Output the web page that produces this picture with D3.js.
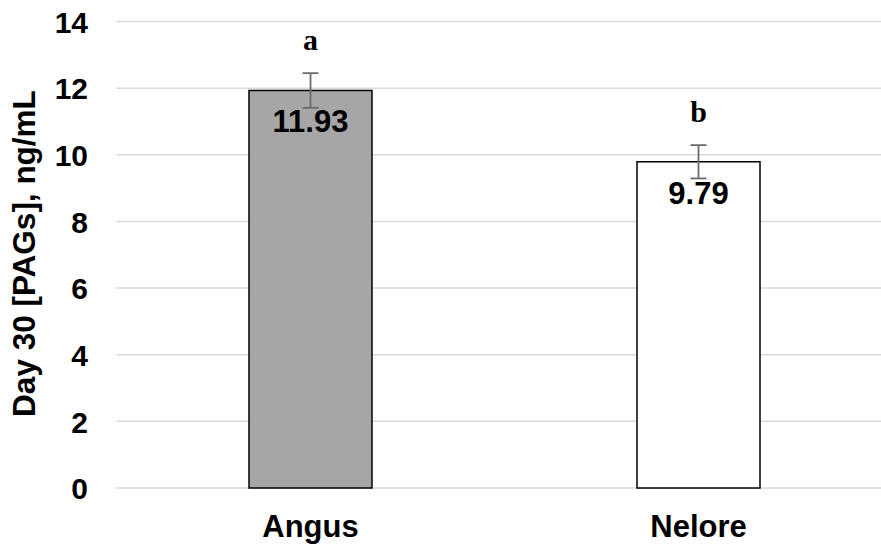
<!DOCTYPE html>
<html>
<head>
<meta charset="utf-8">
<script src="https://cdn.jsdelivr.net/npm/d3@7/dist/d3.min.js"></script>
<style>
  html, body { margin: 0; padding: 0; background: #fff; }
  svg { display: block; }
  text { font-family: Arial, "Liberation Sans", sans-serif; font-weight: bold; fill: #000; }
</style>
</head>
<body>
<svg id="chart" width="881" height="546"></svg>
<script>
// Breed means of day-30 PAG concentration with standard errors
const breeds = ["Angus", "Nelore"];
const means = [11.93, 9.79];
const errors = [0.52, 0.50];
const letters = ["a", "b"];
const fills = ["#a6a6a6", "#ffffff"];
const yTicks = [0, 2, 4, 6, 8, 10, 12, 14];

const plot = { left: 116.5, right: 892.5, top: 21.5, bottom: 488 };

const svg = d3.select("#chart");

const x = d3.scaleBand().domain(breeds).range([plot.left, plot.right]).padding(0);
const y = d3.scaleLinear().domain([0, 14]).range([plot.bottom, plot.top]);
const barW = x.bandwidth() * 0.317;

// horizontal gridlines
svg.append("g")
  .selectAll("line")
  .data(yTicks)
  .join("line")
  .attr("x1", plot.left).attr("x2", plot.right)
  .attr("y1", d => y(d)).attr("y2", d => y(d))
  .attr("stroke", "#d9d9d9").attr("stroke-width", 1.5);

// y axis tick labels
const yAxis = d3.axisLeft(y).tickValues(yTicks).tickSize(0).tickPadding(0).tickFormat(d3.format("d"));
const gy = svg.append("g").attr("transform", "translate(88,0)").call(yAxis);
gy.select(".domain").remove();
gy.selectAll("text")
  .attr("font-size", 30)
  .attr("font-family", "Arial, 'Liberation Sans', sans-serif")
  .attr("font-weight", "bold")
  .attr("fill", "#000")
  .attr("dy", "0.36em");

// bars
const rows = breeds.map((b, i) => ({ b, v: means[i], e: errors[i], l: letters[i], f: fills[i] }));
svg.append("g")
  .selectAll("rect")
  .data(rows)
  .join("rect")
  .attr("x", d => x(d.b) + (x.bandwidth() - barW) / 2)
  .attr("y", d => y(d.v))
  .attr("width", barW)
  .attr("height", d => y(0) - y(d.v))
  .attr("fill", d => d.f)
  .attr("stroke", "#000")
  .attr("stroke-width", 1.5);

// error bars
const cx = d => x(d.b) + x.bandwidth() / 2;
const eg = svg.append("g").attr("stroke", "#6b6b6b").attr("stroke-width", 1.8);
rows.forEach(d => {
  eg.append("line").attr("x1", cx(d)).attr("x2", cx(d)).attr("y1", y(d.v + d.e)).attr("y2", y(d.v - d.e));
  eg.append("line").attr("x1", cx(d) - 8).attr("x2", cx(d) + 8).attr("y1", y(d.v + d.e)).attr("y2", y(d.v + d.e));
  eg.append("line").attr("x1", cx(d) - 8).attr("x2", cx(d) + 8).attr("y1", y(d.v - d.e)).attr("y2", y(d.v - d.e));
});

// value labels inside bars
svg.append("g")
  .selectAll("text")
  .data(rows)
  .join("text")
  .attr("x", cx)
  .attr("y", d => y(d.v) + 42)
  .attr("text-anchor", "middle")
  .attr("font-size", 31)
  .text(d => d.v.toFixed(2));

// significance letters
svg.append("g")
  .selectAll("text")
  .data(rows)
  .join("text")
  .attr("x", cx)
  .attr("y", d => y(d.v + d.e) - 23)
  .attr("text-anchor", "middle")
  .attr("font-size", 30)
  .style("font-family", "'Times New Roman', 'Liberation Serif', serif")
  .text(d => d.l);

// category labels
svg.append("g")
  .selectAll("text")
  .data(breeds)
  .join("text")
  .attr("x", d => x(d) + x.bandwidth() / 2)
  .attr("y", 537)
  .attr("text-anchor", "middle")
  .attr("font-size", 31)
  .text(d => d);

// y axis title
svg.append("text")
  .attr("transform", "translate(35,253.5) rotate(-90)")
  .attr("text-anchor", "middle")
  .attr("font-size", 31.5)
  .text("Day 30 [PAGs], ng/mL");
</script>
</body>
</html>
